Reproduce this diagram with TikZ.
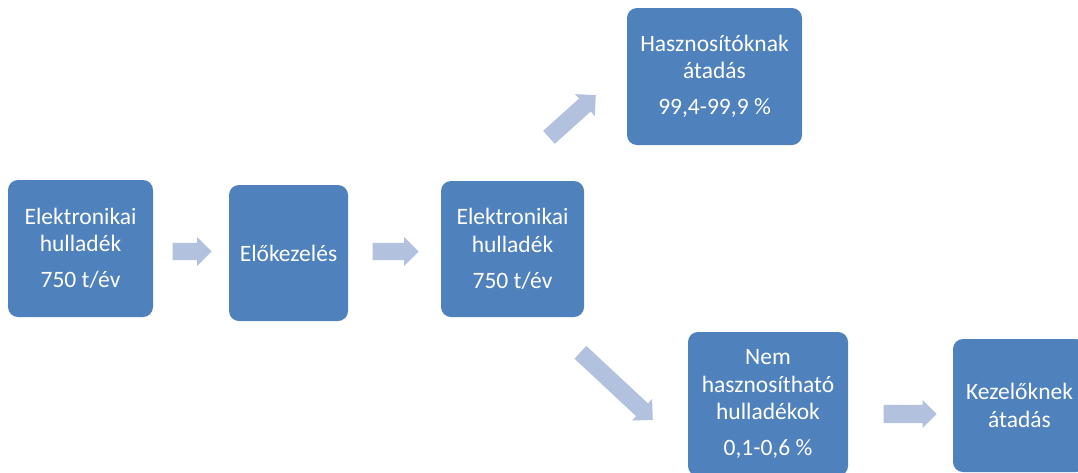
\documentclass[tikz,border=0pt]{standalone}
\usepackage{fontspec}
\setmainfont{Carlito}
\usetikzlibrary{shapes.arrows}
\definecolor{boxblue}{HTML}{4F81BD}
\definecolor{arrowblue}{HTML}{B1C1DE}
\tikzset{
    box/.style={fill=boxblue, rounded corners=10pt, text=white, align=center,
        inner sep=0pt, font=\fontsize{23.5}{27.5}\selectfont},
    blockarrow/.style={single arrow, fill=arrowblue, draw=none, inner sep=0pt,
        text height=8.5pt, text depth=8.5pt, single arrow head extend=6pt,
        single arrow tip angle=90, anchor=tip},
}
\begin{document}
\begin{tikzpicture}[x=1pt, y=-1pt]
        \clip (0,0) rectangle (1078,472);

        \node[box, minimum width=145pt, minimum height=137pt] (A) at (80.5,248.5)
            {Elektronikai\\hulladék\\[8.5pt]750 t/év};
        \node[box, minimum width=119pt, minimum height=136pt] (B) at (288.5,253)
            {Előkezelés};
        \node[box, minimum width=143pt, minimum height=136pt] (C) at (512.5,249)
            {Elektronikai\\hulladék\\[8.5pt]750 t/év};
        \node[box, minimum width=175pt, minimum height=137pt] (D) at (714.5,76.5)
            {Hasznosítóknak\\átadás\\[8.5pt]99,4-99,9 \%};
        \node[box, minimum width=160pt, minimum height=144pt] (E) at (768,404)
            {Nem\\hasznosítható\\hulladékok\\[8.5pt]0,1-0,6 \%};
        \node[box, minimum width=133pt, minimum height=133pt] (F) at (1019.5,405.5)
            {Kezelőknek\\átadás};

        \node[blockarrow, minimum height=39pt] (AB) at (212,251.5) {};
        \node[blockarrow, minimum height=46pt] (BC) at (419,251.5) {};
        \node[blockarrow, minimum height=63pt, rotate=42] (CD) at (596,95) {};
        \node[blockarrow, minimum height=99pt, rotate=-43] (CE) at (653,420) {};
        \node[blockarrow, minimum height=53pt, text height=9pt, text depth=9pt,
            single arrow head extend=5pt] (EF) at (937,414) {};
    \end{tikzpicture}
\end{document}
